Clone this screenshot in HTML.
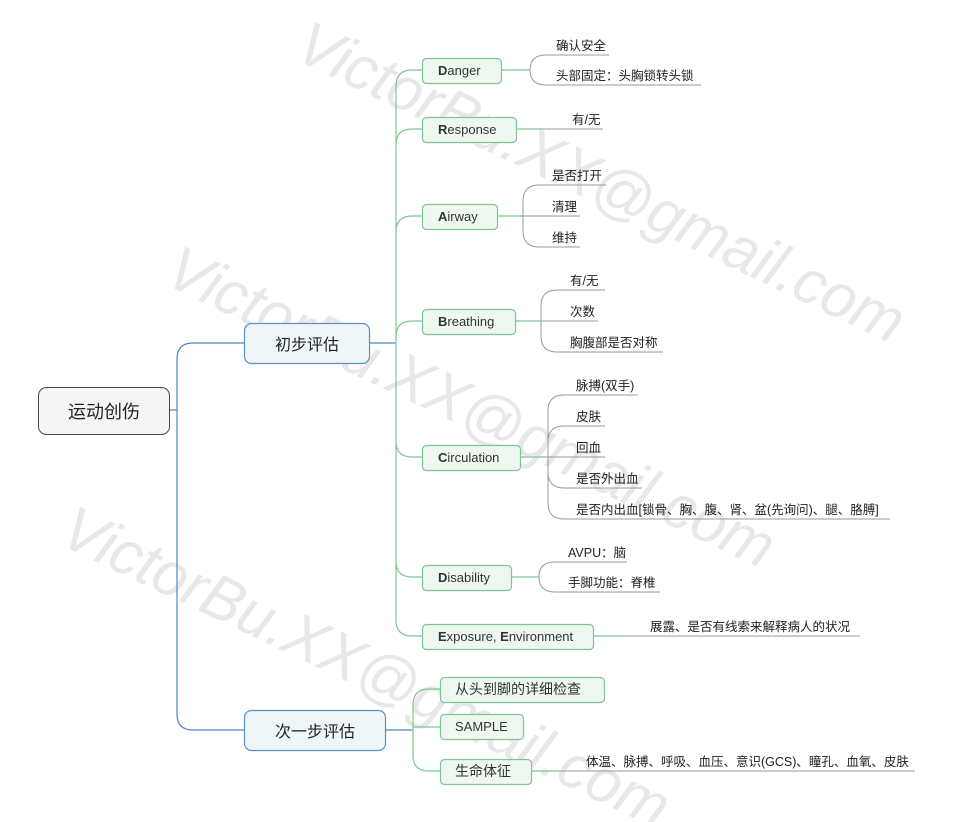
<!DOCTYPE html>
<html><head><meta charset="utf-8"><style>
html,body{margin:0;padding:0;background:#fff;}
svg{display:block;}
text{font-family:"Liberation Sans","Noto Sans CJK SC",sans-serif;}
</style></head><body>
<svg width="954" height="822" viewBox="0 0 954 822" xmlns="http://www.w3.org/2000/svg">
<!-- watermarks -->
<g fill="#e8e8e8" font-style="italic" font-size="62">
<text x="292" y="58" transform="rotate(25.5 292 58)" textLength="665" lengthAdjust="spacingAndGlyphs">VictorBu.XX@gmail.com</text>
<text x="162" y="283" transform="rotate(25.5 162 283)" textLength="665" lengthAdjust="spacingAndGlyphs">VictorBu.XX@gmail.com</text>
<text x="57" y="543" transform="rotate(25.5 57 543)" textLength="665" lengthAdjust="spacingAndGlyphs">VictorBu.XX@gmail.com</text>
</g>
<!-- blue connectors -->
<g fill="none" stroke="#4f86c6" stroke-width="1.2">
<path d="M169 410 H177"/>
<path d="M244 343 H193 Q177 343 177 359 V714 Q177 730 193 730 H244"/>
<path d="M369 343 H396"/>
<path d="M385 730 H413"/>
</g>
<!-- green connectors -->
<g fill="none" stroke="#7cc795" stroke-width="1.2">
<path d="M422 70 H412 Q396 70 396 86 V620 Q396 636 412 636 H422"/>
<path d="M396 145 Q396 129 412 129 H422"/>
<path d="M396 232 Q396 216 412 216 H422"/>
<path d="M396 337 Q396 321 412 321 H422"/>
<path d="M396 441 Q396 457 412 457 H422"/>
<path d="M396 561 Q396 577 412 577 H422"/>
<path d="M440 689 H429 Q413 689 413 705 V755 Q413 771 429 771 H440"/>
<path d="M413 727 H440"/>
<path d="M501 70 H530"/>
<path d="M516 129 H540"/>
<path d="M497 216 H523"/>
<path d="M515 321 H541"/>
<path d="M520 457 H548"/>
<path d="M511 577 H539"/>
<path d="M593 636 H620"/>
<path d="M531 771 H560"/>
</g>
<!-- gray leaf connectors -->
<g fill="none" stroke="#9a9a9a" stroke-width="1">
<path d="M609 55 H546 Q530 55 530 70 Q530 85 546 85 H701"/>
<path d="M540 129 H603"/>
<path d="M606 185 H539 Q523 185 523 201 V231 Q523 247 539 247 H580 M523 216 H580"/>
<path d="M605 290 H557 Q541 290 541 306 V336 Q541 352 557 352 H663 M541 321 H598"/>
<path d="M638 395 H564 Q548 395 548 411 V503 Q548 519 564 519 H890 M605 426 H564 Q548 426 548 442 M548 472 Q548 488 564 488 H642 M548 457 H605"/>
<path d="M627 562 H555 Q539 562 539 577 Q539 592 555 592 H660"/>
<path d="M620 636 H860"/>
<path d="M560 771 H915"/>
</g>
<!-- root -->
<rect x="38.5" y="387.5" width="131" height="47" rx="8" fill="#f5f5f5" stroke="#444" stroke-width="1"/>
<text x="104" y="418" font-size="18" text-anchor="middle" fill="#222">运动创伤</text>
<!-- level 1 -->
<rect x="244.5" y="323.5" width="125" height="40" rx="7" fill="#eef6f8" stroke="#5b8fc7" stroke-width="1.2"/>
<text x="307" y="350" font-size="16" text-anchor="middle" fill="#222">初步评估</text>
<rect x="244.5" y="710.5" width="141" height="40" rx="7" fill="#eef6f8" stroke="#5b8fc7" stroke-width="1.2"/>
<text x="315" y="737" font-size="16" text-anchor="middle" fill="#222">次一步评估</text>
<!-- level 2 -->
<g fill="#eef7f0" stroke="#7cc795" stroke-width="1.2">
<rect x="422.5" y="58.5" width="79" height="25" rx="4"/>
<rect x="422.5" y="117.5" width="94" height="25" rx="4"/>
<rect x="422.5" y="204.5" width="75" height="25" rx="4"/>
<rect x="422.5" y="309.5" width="93" height="25" rx="4"/>
<rect x="422.5" y="445.5" width="98" height="25" rx="4"/>
<rect x="422.5" y="565.5" width="89" height="25" rx="4"/>
<rect x="422.5" y="624.5" width="171" height="25" rx="4"/>
<rect x="440.5" y="677.5" width="164" height="25" rx="4"/>
<rect x="440.5" y="714.5" width="83" height="25" rx="4"/>
<rect x="440.5" y="759.5" width="91" height="25" rx="4"/>
</g>
<g font-size="13" fill="#333">
<text x="438" y="75"><tspan font-weight="bold">D</tspan>anger</text>
<text x="438" y="134"><tspan font-weight="bold">R</tspan>esponse</text>
<text x="438" y="221"><tspan font-weight="bold">A</tspan>irway</text>
<text x="438" y="326"><tspan font-weight="bold">B</tspan>reathing</text>
<text x="438" y="462"><tspan font-weight="bold">C</tspan>irculation</text>
<text x="438" y="582"><tspan font-weight="bold">D</tspan>isability</text>
<text x="438" y="641"><tspan font-weight="bold">E</tspan>xposure, <tspan font-weight="bold">E</tspan>nvironment</text>
<text x="455" y="694" font-size="14">从头到脚的详细检查</text>
<text x="455" y="731">SAMPLE</text>
<text x="455" y="776" font-size="14">生命体征</text>
</g>
<!-- leaves -->
<g font-size="12.5" fill="#222">
<text x="556" y="50">确认安全</text>
<text x="556" y="80">头部固定：头胸锁转头锁</text>
<text x="572" y="124">有/无</text>
<text x="552" y="180">是否打开</text>
<text x="552" y="211">清理</text>
<text x="552" y="242">维持</text>
<text x="570" y="285">有/无</text>
<text x="570" y="316">次数</text>
<text x="570" y="347">胸腹部是否对称</text>
<text x="576" y="390">脉搏(双手)</text>
<text x="576" y="421">皮肤</text>
<text x="576" y="452">回血</text>
<text x="576" y="483">是否外出血</text>
<text x="576" y="514">是否内出血[锁骨、胸、腹、肾、盆(先询问)、腿、胳膊]</text>
<text x="568" y="557">AVPU：脑</text>
<text x="568" y="587">手脚功能：脊椎</text>
<text x="650" y="631">展露、是否有线索来解释病人的状况</text>
<text x="586" y="766">体温、脉搏、呼吸、血压、意识(GCS)、瞳孔、血氧、皮肤</text>
</g>
</svg>
</body></html>
